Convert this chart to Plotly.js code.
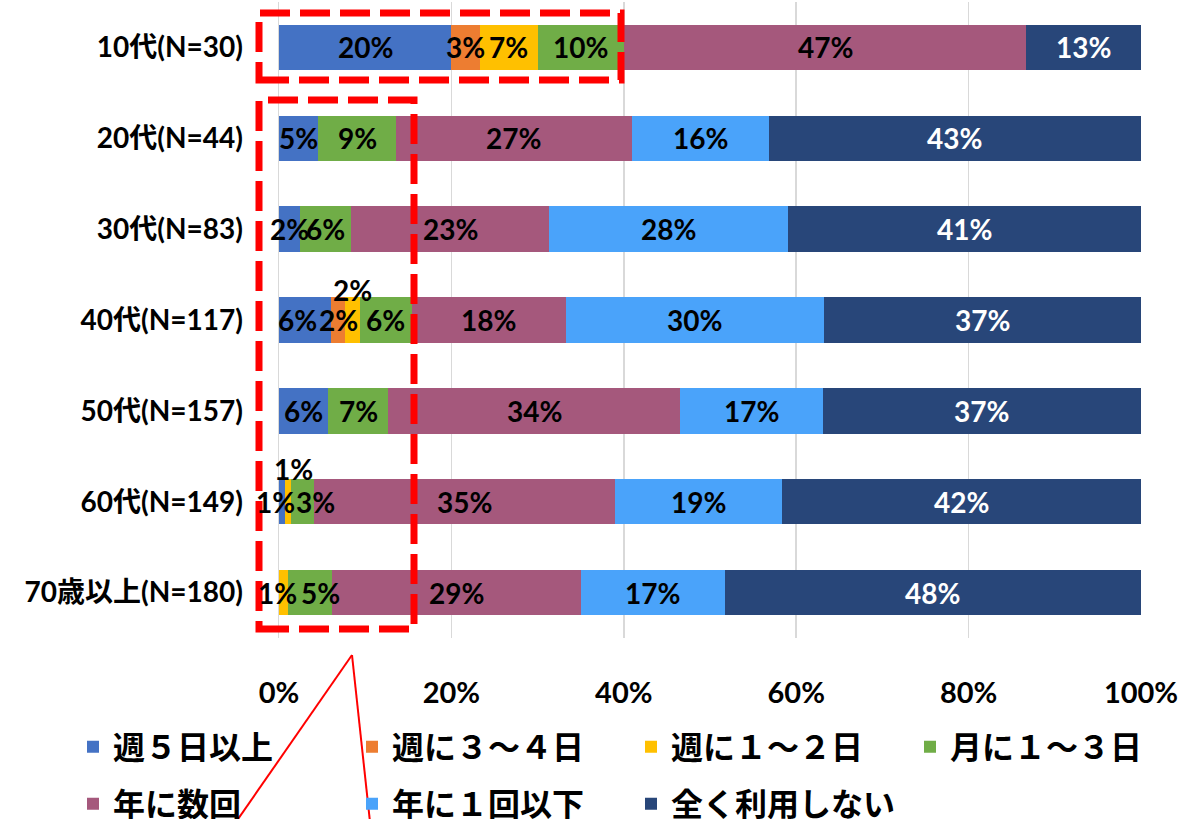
<!DOCTYPE html>
<html>
<head>
<meta charset="utf-8">
<script src="https://cdn.plot.ly/plotly-3.0.1.min.js"></script>
<style>html,body{margin:0;padding:0;background:#fff;}#chart{width:1182px;height:819px;}</style>
</head>
<body>
<div id="chart"></div>
<script>
const categories = ['10代(N=30)','20代(N=44)','30代(N=83)','40代(N=117)','50代(N=157)','60代(N=149)','70歳以上(N=180)'];
const seriesNames = ['週５日以上','週に３～４日','週に１～２日','月に１～３日','年に数回','年に１回以下','全く利用しない'];
const weekly5   = [20.0, 4.5, 2.4, 6.0, 5.7, 0.7, 0];
const weekly34  = [3.3, 0, 0, 1.7, 0, 0, 0];
const weekly12  = [6.7, 0, 0, 1.7, 0, 0.7, 1.1];
const monthly13 = [10.0, 9.1, 6.0, 6.0, 7.0, 2.7, 5.0];
const yearlyFew = [46.7, 27.3, 22.9, 17.9, 33.8, 34.9, 28.9];
const yearly1   = [0, 15.9, 27.7, 29.9, 16.6, 19.4, 16.7];
const never     = [13.3, 43.2, 41.0, 36.8, 36.9, 41.6, 48.3];
const xTicks = [0, 20, 40, 60, 80, 100];

const seriesValues = [weekly5, weekly34, weekly12, monthly13, yearlyFew, yearly1, never];
const colors = ['#4472C4','#ED7D31','#FFC000','#70AD47','#A5587C','#4AA3FA','#284679'];
const textColors = ['#000','#000','#000','#000','#000','#000','#fff'];
const FONT = "Lato, 'Noto Sans CJK JP', sans-serif";

// label offsets for crowded small segments (series index, category index, xshift, yshift)
const offsets = [
  {s:2, c:3, dx:0, dy:30},
  {s:0, c:3, dx:-7, dy:0},
  {s:2, c:5, dx:5, dy:33},
  {s:0, c:5, dx:-7, dy:0},
  {s:3, c:5, dx:13, dy:0},
  {s:2, c:6, dx:-6, dy:0},
  {s:3, c:6, dx:10, dy:0}
];
const findOff = (s,c) => offsets.find(m => m.s===s && m.c===c) || {dx:0, dy:0};
const lbl = v => Math.round(v) + '%';

const traces = seriesValues.map((vals, s) => ({
  type: 'bar',
  orientation: 'h',
  name: seriesNames[s],
  y: categories,
  x: vals,
  marker: {color: colors[s], line: {width: 0}},
  hoverinfo: 'skip',
  legend: s < 4 ? 'legend' : 'legend2'
}));

const annotations = [];
categories.forEach((cat, c) => {
  let start = 0;
  seriesValues.forEach((vals, s) => {
    const v = vals[c];
    if (v > 0) {
      const o = findOff(s, c);
      annotations.push({
        x: start + v / 2, y: cat, xref: 'x', yref: 'y',
        text: lbl(v), showarrow: false, xshift: o.dx, yshift: o.dy,
        xanchor: 'center', yanchor: 'middle',
        font: {family: FONT, size: 28, weight: 'bold', color: textColors[s]}
      });
    }
    start += v;
  });
});

const W = 1182, H = 819;
const PL = 279, PR = 1141, PT = 2, PB = 638;
const px = x => (x - PL) / (PR - PL);
const py = y => (PB - y) / (PB - PT);
const red = '#FF0000';
const shapes = [
  {type:'rect', xref:'paper', yref:'paper', x0:px(259), x1:px(621), y0:py(80), y1:py(13),
   line:{color:red, width:7, dash:'30px,10px'}, fillcolor:'rgba(0,0,0,0)'},
  {type:'rect', xref:'paper', yref:'paper', x0:px(259), x1:px(414), y0:py(629), y1:py(100),
   line:{color:red, width:7, dash:'30px,10px'}, fillcolor:'rgba(0,0,0,0)'},
  {type:'line', xref:'paper', yref:'paper', x0:px(352), y0:py(655), x1:px(236), y1:py(822),
   line:{color:red, width:2}},
  {type:'line', xref:'paper', yref:'paper', x0:px(352), y0:py(655), x1:px(370), y1:py(822),
   line:{color:red, width:2}}
];

const legendBase = {
  orientation: 'h', xanchor: 'left', yanchor: 'middle',
  x: px(73), entrywidth: 234, entrywidthmode: 'pixels',
  font: {family: FONT, size: 32, weight: 'bold', color: '#000'},
  bgcolor: 'rgba(0,0,0,0)', traceorder: 'normal'
};

const layout = {
  width: W, height: H,
  margin: {l: PL, r: W - PR, t: PT, b: H - PB, pad: 0, autoexpand: false},
  paper_bgcolor: '#fff', plot_bgcolor: '#fff',
  barmode: 'stack', bargap: 0.5,
  font: {family: FONT, color: '#000'},
  xaxis: {
    range: [0, 100], tickvals: xTicks, ticktext: xTicks.map(t => t + '%'),
    showgrid: true, gridcolor: '#D9D9D9', gridwidth: 1.5, zeroline: false,
    ticks: 'outside', ticklen: 29, tickcolor: 'rgba(0,0,0,0)',
    tickfont: {family: FONT, size: 29, weight: 'bold', color: '#000'},
    fixedrange: true
  },
  yaxis: {
    type: 'category', categoryorder: 'array', categoryarray: categories,
    autorange: 'reversed', showgrid: false, zeroline: false,
    showline: true, linecolor: '#D9D9D9', linewidth: 1.5,
    ticks: 'outside', ticklen: 29, tickcolor: 'rgba(0,0,0,0)',
    tickfont: {family: FONT, size: 28, weight: 'bold', color: '#000'},
    fixedrange: true
  },
  showlegend: true,
  legend: Object.assign({}, legendBase, {y: py(747)}),
  legend2: Object.assign({}, legendBase, {y: py(804)}),
  annotations: annotations,
  shapes: shapes
};

Plotly.newPlot('chart', traces, layout, {displayModeBar: false, staticPlot: true});
</script>
</body>
</html>
